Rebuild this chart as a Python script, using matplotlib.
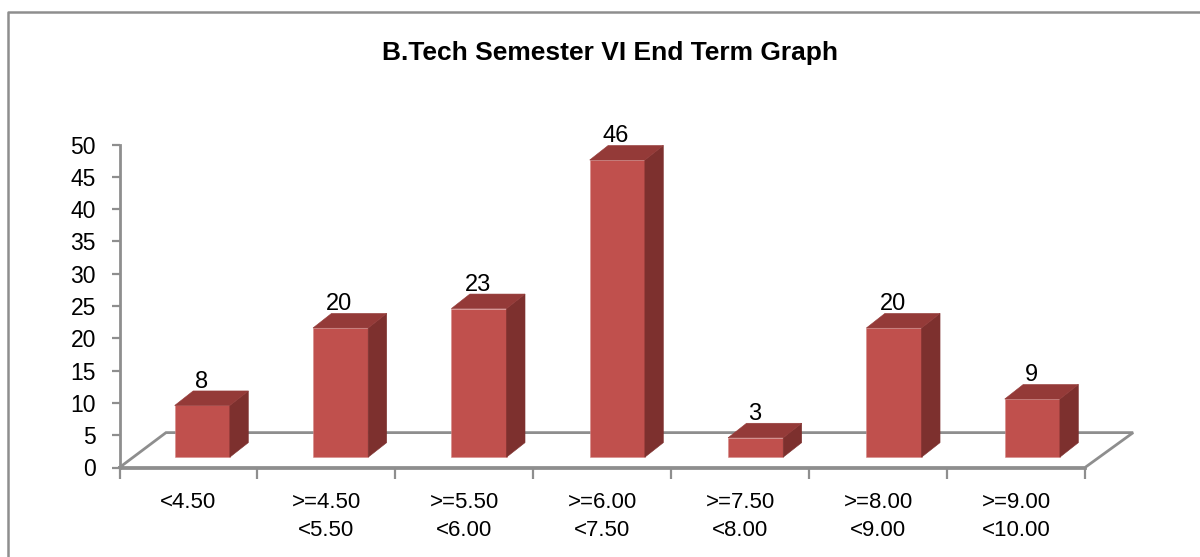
import matplotlib
matplotlib.use('Agg')
import matplotlib.pyplot as plt
from matplotlib.lines import Line2D
from matplotlib.patches import Polygon

# Data
categories = ['<4.50', '>=4.50\n<5.50', '>=5.50\n<6.00', '>=6.00\n<7.50',
              '>=7.50\n<8.00', '>=8.00\n<9.00', '>=9.00\n<10.00']
values = [8, 20, 23, 46, 3, 20, 9]
y_ticks = list(range(0, 55, 5))
title = 'B.Tech Semester VI End Term Graph'

plt.rcParams['font.family'] = ['Liberation Sans', 'DejaVu Sans']

W, H = 1200, 557
GREY = '#8e8e8e'
FRONT = '#c0504d'
TOP = '#943a38'
SIDE = '#7d302e'

fig = plt.figure(figsize=(W / 100, H / 100), dpi=100)
ax = fig.add_axes([119.5 / W, 1 - 467.5 / H, (1085 - 119.5) / W, (467.5 - 144.5) / H])
ax.set_xlim(0, len(categories))
ax.set_ylim(0, 50)
ax.patch.set_visible(False)

# Outer chart border
fig.add_artist(Line2D([8 / W, 8 / W, 1], [0, 1 - 12 / H, 1 - 12 / H], color=GREY, lw=1.8))

# Pseudo 3D floor
floor_dx, floor_dy = 0.337, 5.4
n = len(categories)
ax.plot([0, floor_dx, n + floor_dx + 0.012, n, 0], [0, floor_dy, floor_dy, 0, 0],
        color=GREY, lw=2, clip_on=False, zorder=1, solid_joinstyle='miter')

# Bars
bar_step, bar_l, bar_w, base = 1.003, 0.4, 0.4, 1.6
dx, dy = 0.134, 2.25
for i, v in enumerate(values):
    l = i * bar_step + bar_l
    r = l + bar_w
    top = base + v
    ax.add_patch(Polygon([(l, base), (r, base), (r, top), (l, top)], fc=FRONT, ec='#d58a88', lw=0.4, zorder=3))
    ax.add_patch(Polygon([(r, base), (r + dx, base + dy), (r + dx, top + dy), (r, top)], fc=SIDE, ec=SIDE, lw=0.4, zorder=3))
    ax.add_patch(Polygon([(l, top), (r, top), (r + dx, top + dy), (l + dx, top + dy)], fc=TOP, ec=TOP, lw=0.4, zorder=3))
    ax.text(l + bar_w / 2 - 0.008, top + dy - 0.25, str(v), ha='center', va='bottom', fontsize=17, color='black')

# Axes
for s in ['top', 'right']:
    ax.spines[s].set_visible(False)
for s in ['left', 'bottom']:
    ax.spines[s].set_color(GREY)
    ax.spines[s].set_linewidth(2)
ax.set_yticks(y_ticks)
ax.tick_params(axis='y', length=6, width=1.6, color=GREY, labelsize=16.5, pad=11)
ax.set_xticks(range(n + 1))
ax.set_xticklabels([''] * (n + 1))
ax.tick_params(axis='x', length=8, width=1.6, color=GREY)
for i, c in enumerate(categories):
    ax.annotate(c, (i + 0.5, 0), xytext=(0, -17.5), textcoords='offset points', ha='center', va='top',
                fontsize=16, linespacing=1.42)

fig.text(610 / W, 1 - 53.5 / H, title, ha='center', va='center', fontsize=19, fontweight='bold')

fig.savefig('out.png', dpi=100)
